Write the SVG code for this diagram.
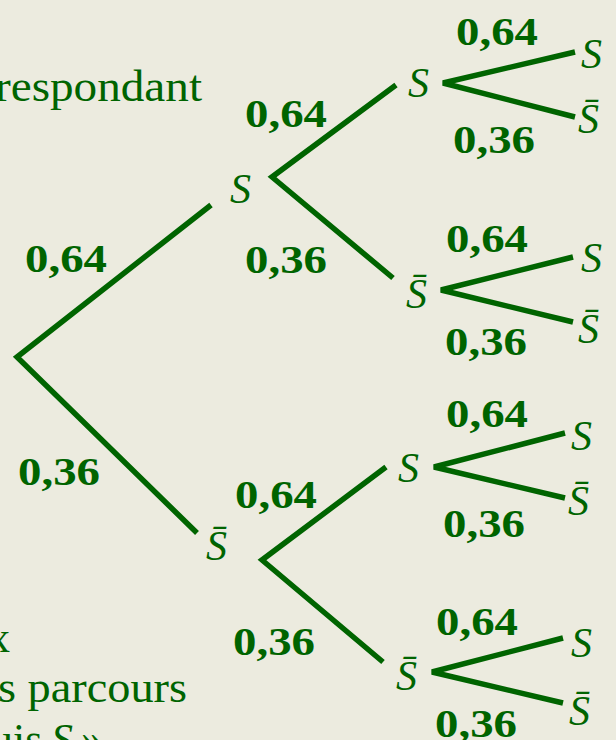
<svg xmlns="http://www.w3.org/2000/svg" width="616" height="740" viewBox="0 0 616 740">
<style>
.bg{fill:#ECEBDF}
.e{stroke:#006400;stroke-width:5.5;fill:none;stroke-linecap:butt;stroke-linejoin:miter}
.p{font-family:"Liberation Serif",serif;font-weight:bold;font-size:41px;fill:#006400}
.v{font-family:"Liberation Serif",serif;font-style:italic;font-size:42px;fill:#006400}
.t{font-family:"Liberation Serif",serif;font-size:44px;fill:#006400}
</style>
<rect class="bg" x="0" y="0" width="616" height="740"/>
<g id="connectors">
<polyline class="e" points="211,205 17,357 197,533"/>
<polyline class="e" points="396,85 272,177 393,278"/>
<polyline class="e" points="386,467 262,560 383,662"/>
<polyline class="e" points="575,52 443,83 575,117"/>
<polyline class="e" points="573,257 441,290 573,322"/>
<polyline class="e" points="565,433 434,467 565,498"/>
<polyline class="e" points="563,638 432,672 563,703"/>
</g>
<g id="labels">
<text class="p" x="25" y="272" textLength="82" lengthAdjust="spacingAndGlyphs">0,64</text>
<text class="p" x="18" y="485" textLength="82" lengthAdjust="spacingAndGlyphs">0,36</text>
<text class="p" x="245" y="127" textLength="82" lengthAdjust="spacingAndGlyphs">0,64</text>
<text class="p" x="245" y="273" textLength="82" lengthAdjust="spacingAndGlyphs">0,36</text>
<text class="p" x="235" y="508" textLength="82" lengthAdjust="spacingAndGlyphs">0,64</text>
<text class="p" x="233" y="655" textLength="82" lengthAdjust="spacingAndGlyphs">0,36</text>
<text class="p" x="456" y="45" textLength="82" lengthAdjust="spacingAndGlyphs">0,64</text>
<text class="p" x="453" y="153" textLength="82" lengthAdjust="spacingAndGlyphs">0,36</text>
<text class="p" x="446" y="252" textLength="82" lengthAdjust="spacingAndGlyphs">0,64</text>
<text class="p" x="445" y="355" textLength="82" lengthAdjust="spacingAndGlyphs">0,36</text>
<text class="p" x="446" y="427" textLength="82" lengthAdjust="spacingAndGlyphs">0,64</text>
<text class="p" x="443" y="537" textLength="82" lengthAdjust="spacingAndGlyphs">0,36</text>
<text class="p" x="436" y="635" textLength="82" lengthAdjust="spacingAndGlyphs">0,64</text>
<text class="p" x="435" y="737" textLength="82" lengthAdjust="spacingAndGlyphs">0,36</text>
</g>
<g id="node-A"><text class="v" x="230" y="203">S</text></g>
<g id="node-B"><text class="v" x="206" y="560">S&#x304;</text></g>
<g id="node-AA"><text class="v" x="408" y="97">S</text></g>
<g id="node-AB"><text class="v" x="406" y="308">S&#x304;</text></g>
<g id="node-BA"><text class="v" x="398" y="482">S</text></g>
<g id="node-BB"><text class="v" x="396" y="690">S&#x304;</text></g>
<g id="node-AAA"><text class="v" x="581" y="68">S</text></g>
<g id="node-AAB"><text class="v" x="578" y="133">S&#x304;</text></g>
<g id="node-ABA"><text class="v" x="581" y="272">S</text></g>
<g id="node-ABB"><text class="v" x="578" y="343">S&#x304;</text></g>
<g id="node-BAA"><text class="v" x="571" y="450">S</text></g>
<g id="node-BAB"><text class="v" x="568" y="515">S&#x304;</text></g>
<g id="node-BBA"><text class="v" x="571" y="657">S</text></g>
<g id="node-BBB"><text class="v" x="569" y="725">S&#x304;</text></g>
<g id="side-text">
<text class="t" x="-5" y="101" textLength="207" lengthAdjust="spacingAndGlyphs">respondant</text>
<text class="t" x="-12" y="652">x</text>
<text class="t" x="-2" y="702" textLength="189" lengthAdjust="spacingAndGlyphs">s parcours</text>
<text class="t" y="754"><tspan x="-9">uis</tspan><tspan x="51" font-style="italic">S</tspan><tspan x="81">»</tspan></text>
</g>
</svg>
